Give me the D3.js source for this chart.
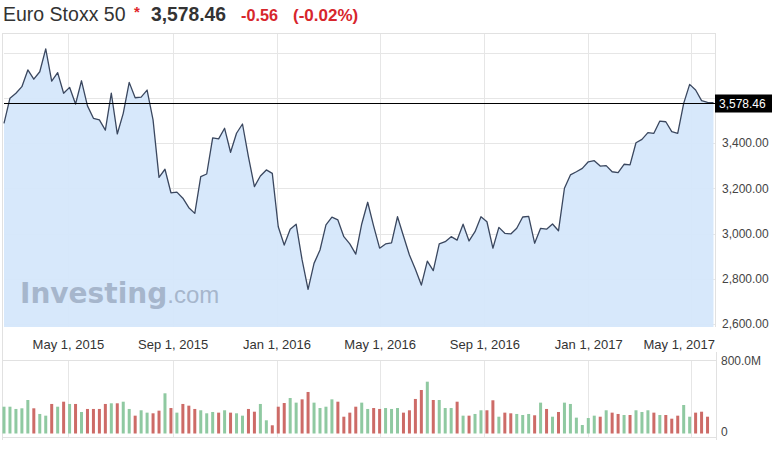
<!DOCTYPE html>
<html><head><meta charset="utf-8">
<script src="https://cdn.jsdelivr.net/npm/d3@7"></script>
<style>
body{margin:0;background:#fff}
svg{display:block;font-family:"Liberation Sans",Arial,sans-serif}
</style>
</head><body>
<svg id="c" width="779" height="457"></svg>
<script>
// ---- data ----
const title = "Euro Stoxx 50";
const lastPrice = 3578.46;
const change = -0.56;
const changePct = -0.02;
const startDate = new Date(2015, 1, 15); // first weekly bar
const closes = [
 3487,3598,3620,3649,3723,3682,3715,3816,3674,3711,
 3620,3646,3572,3675,3564,3509,3502,3457,3620,3440,
 3531,3668,3600,3603,3634,3502,3248,3284,3180,3183,
 3156,3114,3089,3251,3263,3423,3418,3465,3359,3443,
 3484,3339,3207,3254,3281,3266,3030,2949,3019,3041,
 2883,2753,2868,2927,3038,3072,3060,2986,2954,2909,
 3042,3138,3033,2935,2954,2959,3074,2989,2905,2842,
 2772,2878,2836,2954,2964,2986,2971,3041,2967,3008,
 3074,3052,2935,3027,3001,2998,3023,3073,3076,2957,
 3023,3019,3042,3012,3200,3259,3273,3288,3317,3322,
 3298,3300,3273,3269,3306,3303,3401,3416,3446,3443,
 3497,3494,3450,3443,3575,3659,3634,3587,3580,3578.46];
const volumes = [ // millions
 284,284,260,267,355,267,207,189,313,284,
 337,313,313,228,260,260,260,313,320,320,
 337,260,189,246,221,214,242,426,270,221,
 313,295,260,246,214,228,221,246,221,214,
 189,260,231,313,140,87,284,323,376,327,
 362,440,327,270,284,362,337,178,221,284,
 327,260,270,260,270,260,270,221,246,366,
 461,549,355,355,270,270,337,189,189,207,
 246,246,352,178,221,214,207,196,207,193,
 327,260,178,228,327,313,168,90,164,189,
 178,246,221,207,196,196,246,228,246,221,
 196,196,157,189,302,178,221,231,178];
const priceTicks = [2600, 2800, 3000, 3200, 3400];
const priceGrid = [2600, 2800, 3000, 3200, 3400, 3600, 3800];
const volumeTicks = [0, 800];
const dateTicks = [new Date(2015,4,1), new Date(2015,8,1), new Date(2016,0,1),
                   new Date(2016,4,1), new Date(2016,8,1), new Date(2017,0,1), new Date(2017,4,1)];

// ---- layout ----
const plotL = 4, plotR = 715, priceTop = 34, priceBottom = 327;
const volTop = 360, volBottom = 437;
const gridColor = "#e6e6e6";
const hy = s => s.replace(/\u2212/g, "-");

const dates = closes.map((_, i) => d3.timeWeek.offset(startDate, i));
const x = d3.scaleTime().domain([dates[0], dates[dates.length - 1]]).range([plotL, 713.5]);
const y = d3.scaleLinear().domain([2600, 3400]).range([324, 143]);
const yv = d3.scaleLinear().domain([0, 800]).range([433.5, 358]);

const svg = d3.select("#c");

// title
const t = svg.append("g");
t.append("text").attr("x", 3).attr("y", 21).attr("font-size", 19.5).attr("fill", "#333").text(title);
t.append("text").attr("x", 134).attr("y", 17).attr("font-size", 15).attr("font-weight", "bold").attr("fill", "#e0262b").text("*");
t.append("text").attr("x", 151).attr("y", 21).attr("font-size", 19.3).attr("font-weight", "bold").attr("fill", "#333")
  .text(hy(d3.format(",.2f")(lastPrice)));
t.append("text").attr("x", 241).attr("y", 21).attr("font-size", 16.2).attr("font-weight", "bold").attr("fill", "#d7262c")
  .text(hy(d3.format(".2f")(change)));
t.append("text").attr("x", 293).attr("y", 21).attr("font-size", 17).attr("font-weight", "bold").attr("fill", "#d7262c")
  .text("(" + hy(d3.format(".2f")(changePct)) + "%)");

// price pane grid
svg.append("g").selectAll("line").data(priceGrid).join("line")
  .attr("x1", plotL).attr("x2", plotR).attr("y1", d => Math.round(y(d)) + 0.5).attr("y2", d => Math.round(y(d)) + 0.5)
  .attr("stroke", gridColor);
svg.append("g").selectAll("line").data(dateTicks).join("line")
  .attr("x1", d => Math.round(x(d)) + 0.5).attr("x2", d => Math.round(x(d)) + 0.5)
  .attr("y1", priceTop).attr("y2", priceBottom).attr("stroke", gridColor);
// volume pane grid
svg.append("g").selectAll("line").data(dateTicks).join("line")
  .attr("x1", d => Math.round(x(d)) + 0.5).attr("x2", d => Math.round(x(d)) + 0.5)
  .attr("y1", volTop).attr("y2", volBottom).attr("stroke", gridColor);

// frame
const fr = svg.append("g").attr("stroke", "#e1e1e1").attr("fill", "none");
fr.append("line").attr("x1", 2).attr("x2", plotR + 1).attr("y1", priceTop - 0.5).attr("y2", priceTop - 0.5);
fr.append("line").attr("x1", 2.5).attr("x2", 2.5).attr("y1", priceTop - 0.5).attr("y2", volBottom + 3);
fr.append("line").attr("x1", plotR + 0.5).attr("x2", plotR + 0.5).attr("y1", priceTop - 0.5).attr("y2", priceBottom);
fr.append("line").attr("x1", plotR + 1.5).attr("x2", plotR + 1.5).attr("y1", 352).attr("y2", volBottom + 3);
fr.append("line").attr("x1", 2).attr("x2", plotR + 1).attr("y1", volTop + 0.5).attr("y2", volTop + 0.5);
fr.append("line").attr("x1", 2).attr("x2", plotR + 1).attr("y1", volBottom + 0.5).attr("y2", volBottom + 0.5);

// area
const area = d3.area().x((d, i) => x(dates[i])).y0(priceBottom).y1(d => y(d));
svg.append("path").datum(closes).attr("d", area).attr("fill", "#d5e7fb").attr("fill-opacity", 0.95);

// watermark (single text element)
const wm = svg.append("text").attr("x", 20).attr("y", 303).attr("opacity", 0.55).attr("fill", "#7f8ea6");
wm.append("tspan").attr("font-size", 28).attr("font-weight", "bold")
  .attr("font-family", '"DejaVu Sans",sans-serif').text("Investing");
wm.append("tspan").attr("font-size", 24).attr("font-family", '"Liberation Sans",Arial,sans-serif').text(".com");

const line = d3.line().x((d, i) => x(dates[i])).y(d => y(d));
svg.append("path").datum(closes).attr("d", line).attr("fill", "none")
  .attr("stroke", "#3a475f").attr("stroke-width", 1.3).attr("stroke-linejoin", "round");

// current price line and tag
const yl = Math.round(y(lastPrice)) + 0.5;
svg.append("line").attr("x1", plotL).attr("x2", plotR).attr("y1", yl).attr("y2", yl).attr("stroke", "#000").attr("stroke-width", 1.2);
svg.append("rect").attr("x", 715).attr("y", yl - 9).attr("width", 57).attr("height", 18).attr("fill", "#000");
svg.append("text").attr("x", 719).attr("y", yl).attr("dy", "0.35em").attr("font-size", 12).attr("fill", "#fff")
  .text(hy(d3.format(",.2f")(lastPrice)));

// right price axis
const ax = svg.append("g").attr("transform", `translate(${plotR},0)`)
  .call(d3.axisRight(y).tickValues(priceTicks).tickFormat(d3.format(",.2f")).tickSize(0).tickPadding(7));
ax.select(".domain").remove();
ax.selectAll("text").attr("font-size", 12).attr("fill", "#444").attr("font-family", '"Liberation Sans",Arial,sans-serif');

// bottom date axis
const bx = svg.append("g").attr("transform", `translate(0,${priceBottom})`)
  .call(d3.axisBottom(x).tickValues(dateTicks).tickFormat(d3.timeFormat("%b %-d, %Y")).tickSize(0).tickPadding(13));
bx.select(".domain").remove();
bx.selectAll("text").attr("font-size", 13).attr("fill", "#333").attr("font-family", '"Liberation Sans",Arial,sans-serif')
  .each(function() {
    const bb = this.getBBox();
    const tr = this.parentNode.getAttribute("transform");
    const tx = +tr.match(/translate\(([-\d.]+)/)[1];
    if (tx + bb.x + bb.width > plotR) d3.select(this).attr("text-anchor", "end").attr("x", plotR - tx);
  });

// volume bars
svg.append("g").selectAll("rect").data(volumes).join("rect")
  .attr("x", (d, i) => x(dates[i]) - 1.5).attr("width", 3)
  .attr("y", d => yv(d)).attr("height", d => yv(0) - yv(d))
  .attr("fill", (d, i) => (i === 0 || closes[i] >= closes[i - 1]) ? "#8fc9a1" : "#cd6b67");

// volume axis
const vx = svg.append("g").attr("transform", `translate(${plotR},0)`)
  .call(d3.axisRight(yv).tickValues(volumeTicks).tickFormat(d => d === 0 ? "0" : d3.format(".1f")(d) + "M").tickSize(0).tickPadding(6));
vx.select(".domain").remove();
vx.selectAll("text").attr("font-size", 12).attr("fill", "#444").attr("font-family", '"Liberation Sans",Arial,sans-serif');
vx.selectAll(".tick").attr("transform", d => `translate(0,${d === 0 ? 432 : 361})`);
</script>
</body></html>
